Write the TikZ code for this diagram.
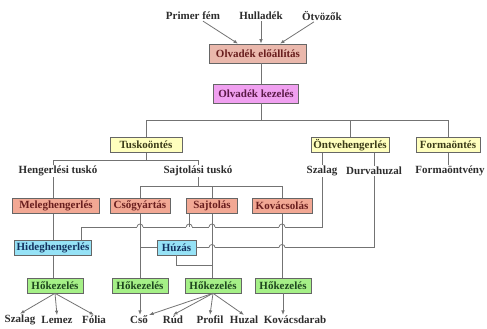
\documentclass[tikz,border=0pt]{standalone}
\usepackage{fontspec}
\setmainfont{Liberation Serif}
\usepackage{xcolor}
\usetikzlibrary{arrows.meta,positioning,calc}
\definecolor{boxsalmon}{RGB}{242,168,148}
\definecolor{boxrose}{RGB}{234,184,172}
\definecolor{boxviolet}{RGB}{240,160,240}
\definecolor{boxyellow}{RGB}{255,255,190}
\definecolor{boxblue}{RGB}{150,226,246}
\definecolor{boxgreen}{RGB}{165,240,135}
\definecolor{txtred}{RGB}{105,30,30}
\definecolor{txtviolet}{RGB}{90,25,70}
\definecolor{txtolive}{RGB}{60,60,25}
\definecolor{txtblue}{RGB}{20,50,95}
\definecolor{txtgreen}{RGB}{30,70,30}
\definecolor{txtgray}{RGB}{45,45,45}
\tikzset{
  box/.style={rectangle, draw=black!60, line width=0.6pt, align=center,
              inner xsep=2pt, inner ysep=1pt, minimum height=15pt,
              font=\bfseries\fontsize{11}{12}\selectfont},
  lbl/.style={inner sep=1pt, text=txtgray, font=\bfseries\fontsize{11}{12}\selectfont},
  ln/.style={draw=black!55, line width=0.8pt},
  ar/.style={ln, -{Latex[length=4.5pt,width=3.5pt]}}
}
% line hop over a crossing line
\newcommand{\jump}[1]{%
  \fill[white] ($#1+(-3,-1.3)$) rectangle ($#1+(3,1.3)$);
  \draw[ln] ($#1+(-3,0)$) arc[start angle=180, end angle=0, radius=3pt];}

\begin{document}
\begin{tikzpicture}[x=1pt, y=-1pt,
  red/.style={box, fill=boxsalmon, text=txtred},
  yel/.style={box, fill=boxyellow, text=txtolive},
  blu/.style={box, fill=boxblue, text=txtblue},
  grn/.style={box, fill=boxgreen, text=txtgreen, minimum width=56pt}
]
\useasboundingbox (0,0) rectangle (487,329);
% ---- inputs and melt ----
\node[lbl] (prim) at (193,16) {Primer fém};
\node[lbl] (hull) at (261,16) {Hulladék};
\node[lbl] (otv) at (322,16) {Ötvözők};
\node[box, fill=boxrose, text=txtred, minimum width=97pt, minimum height=19pt] (elo) at (258,53.5) {Olvadék előállítás};
\node[box, fill=boxviolet, text=txtviolet, minimum width=85pt, minimum height=19pt] (kez) at (256,93.5) {Olvadék kezelés};
% ---- casting ----
\node[yel, minimum width=72pt] (tusk) at (146,145) {Tuskoöntés};
\node[yel, minimum width=78pt] (ontv) at (350,145) {Öntvehengerlés};
\node[yel, minimum width=64pt] (forma) at (448,145) {Formaöntés};
\node[lbl] (hengt) at (58,171) {Hengerlési tuskó};
\node[lbl] (sajtt) at (198,171) {Sajtolási tuskó};
\node[lbl] (sz2) at (322,171) {Szalag};
\node[lbl] (durva) at (374,171) {Durvahuzal};
\node[lbl] (fo) at (450,171) {Formaöntvény};
% ---- forming ----
\node[red, minimum width=87pt] (meleg) at (56,206) {Meleghengerlés};
\node[red, minimum width=60pt] (cso) at (140,206) {Csőgyártás};
\node[red, minimum width=51pt] (sajt) at (212,206) {Sajtolás};
\node[red, minimum width=60pt] (kov) at (282,206) {Kovácsolás};
\node[blu, minimum width=77pt] (hideg) at (53,248) {Hideghengerlés};
\node[blu, minimum width=39pt] (huzas) at (176.5,247.5) {Húzás};
% ---- heat treatment and products ----
\node[grn] (hok1) at (55,285.5) {Hőkezelés};
\node[grn] (hok2) at (140,285.5) {Hőkezelés};
\node[grn] (hok3) at (213,285.5) {Hőkezelés};
\node[grn] (hok4) at (283,285.5) {Hőkezelés};
\node[lbl] (szal) at (20,320) {Szalag};
\node[lbl] (lem) at (57,320) {Lemez};
\node[lbl] (fol) at (94,320) {Fólia};
\node[lbl] (csol) at (139,320) {Cső};
\node[lbl] (rud) at (173,320) {Rúd};
\node[lbl] (prof) at (210,320) {Profil};
\node[lbl] (huz) at (244,320) {Huzal};
\node[lbl] (kdar) at (295,320) {Kovácsdarab};
% ---- helper rows ----
\coordinate (rowT) at (0,120);
\coordinate (rowU) at (0,160);
\coordinate (rowS) at (0,186);
\coordinate (rowA) at (0,227);
\coordinate (sajtl) at ($(sajt.south west)+(3,0)$);
\coordinate (hc) at ($(hideg.north east)+(-10,0)$);
% ---- arrows into the melt ----
\draw[ar] ($(prim.south)+(10,0)$) -- ($(elo.north)+(-20,0)$);
\draw[ar] (hull.south) -- (hull.south |- elo.north);
\draw[ar] ($(otv.south)+(-8,0)$) -- ($(elo.north)+(22,0)$);
\draw[ln] (elo.south -| hull) -- (kez.north -| hull);
\draw[ln] (kez.south -| hull) -- (hull |- rowT);
\draw[ln] (tusk.north) |- (forma.north |- rowT) -- (forma.north);
\draw[ln] (ontv.north) -- (ontv.north |- rowT);
% ---- below casting ----
\draw[ln] (tusk.south) -- (tusk.south |- rowU);
\draw[ln] (hengt.north -| hideg.north) |- (sajtt.north |- rowU) -- (sajtt.north);
\draw[ln] (ontv.south -| sz2) -- (sz2.north);
\draw[ln] (ontv.south -| durva) -- (durva.north);
\draw[ln] (forma.south) -- (forma.south |- fo.north);
\draw[ln] (hengt.south -| hideg.north) -- (meleg.north -| hideg.north);
\draw[ln] (sajtt.south) -- (sajtt.south |- rowS);
\draw[ln] (cso.north) |- (kov.north |- rowS) -- (kov.north);
\draw[ln] (sajt.north) -- (sajt.north |- rowS);
% ---- cross lines ----
\draw[ln] (sz2.south) |- (hc |- rowA) -- (hc);
\draw[ln] (durva.south) |- (huzas.east);
\draw[ln] (huzas.west) -- (huzas.west -| cso.south);
\draw[ln] (huzas.south) |- ($(hok3.north)+(0,-12)$);
\jump{(cso.south |- rowA)}
\jump{(sajtl |- rowA)}
\jump{(sajt.south |- rowA)}
\jump{(kov.south |- rowA)}
\jump{(sajt.south |- huzas.east)}
\jump{(kov.south |- huzas.east)}
% ---- verticals ----
\draw[ln] (meleg.south -| hideg.north) -- (hideg.north);
\draw[ln] (hideg.south) -- (hideg.south |- hok1.north);
\draw[ln] (cso.south) -- (cso.south |- hok2.north);
\draw[ln] (sajtl) -- (sajtl |- rowA);
\draw[ln] (sajt.south) -- (sajt.south |- hok3.north);
\draw[ln] (kov.south) -- (kov.south |- hok4.north);
% ---- products ----
\draw[ar] (hok1.south) -- (szal.north);
\draw[ar] (hok1.south) -- (lem.north);
\draw[ar] (hok1.south) -- (fol.north);
\draw[ar] (hok2.south) -- (hok2.south |- csol.north);
\draw[ar] (hok3.south) -- (csol.north east);
\draw[ar] (hok3.south) -- (rud.north);
\draw[ar] (hok3.south) -- (prof.north);
\draw[ar] (hok3.south) -- (huz.north);
\draw[ar] (hok4.south) -- (hok4.south |- kdar.north);
\end{tikzpicture}
\end{document}
